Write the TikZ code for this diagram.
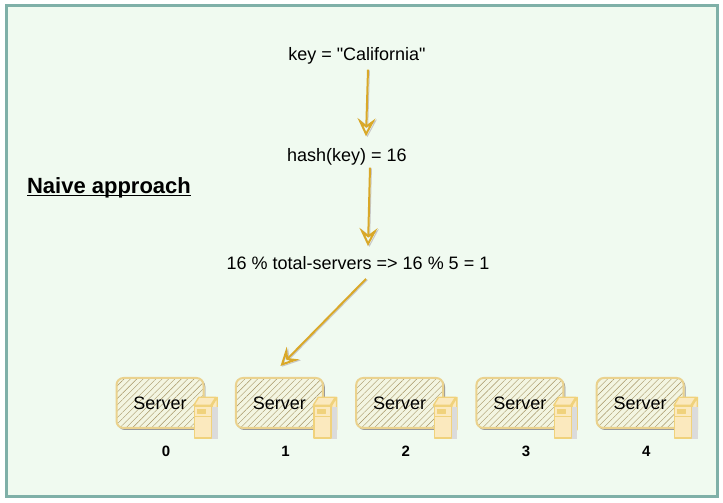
\documentclass[tikz,border=0pt]{standalone}
\usepackage{fontspec}
\setmainfont{Liberation Sans}
\newfontfamily\plainsans{Liberation Sans}
\usetikzlibrary{arrows.meta,positioning,patterns.meta,calc}
\definecolor{pagebg}{HTML}{F0FAF0}
\definecolor{framec}{HTML}{7FB0A8}
\definecolor{sketchc}{HTML}{EAD28E}
\definecolor{towerc}{HTML}{FBE9BE}
\definecolor{towerd}{HTML}{F0D27C}
\definecolor{arrowc}{HTML}{D9A828}
\newcommand{\undertext}[1]{\setbox0\hbox{#1}\rlap{\rule[-2.6pt]{\wd0}{1.6pt}}\box0}

\begin{document}
\begin{tikzpicture}[x=1pt,y=1pt]
  \tikzset{
    >={Stealth[open,length=18pt,width=18pt,inset=7pt]},
    semithick,
    txt/.style={font=\plainsans\fontsize{18}{22}\selectfont,inner sep=2pt},
    number/.style={font=\fontsize{15}{18}\selectfont\bfseries,inner sep=2pt},
    flow/.style={->,draw=arrowc,line width=2pt,
      preaction={draw=black!22,line width=1pt,transform canvas={xshift=1.4pt,yshift=-.8pt}}},
    server/.style={txt,minimum width=87pt,minimum height=50pt,inner sep=0pt,
      draw=sketchc,line width=2pt,rounded corners=7pt,
      pattern={Lines[angle=45,distance=4.5pt,line width=.4pt]},pattern color=black!30!sketchc,
      preaction={draw=black!40,line width=.8pt,transform canvas={xshift=1.4pt,yshift=-1.6pt}},
      preaction={fill=towerc!30!pagebg}},
    tower/.style={minimum width=17pt,minimum height=32pt,inner sep=0pt,
      draw=towerd,line width=1.4pt,fill=towerc,line join=round,
      preaction={fill=black!14,transform canvas={xshift=6pt,yshift=-1pt}},
      path picture={
        \draw[towerd,line width=1pt]
          ($(path picture bounding box.north west)!.34!(path picture bounding box.south west)$)
          -- ($(path picture bounding box.north east)!.34!(path picture bounding box.south east)$);
        \draw[towerd,line width=.8pt,fill=towerd]
          ($(path picture bounding box.north west)+(3,-3)$) rectangle ++(8,-4);
      },
      append after command={
        \pgfextra{\draw[towerd,line width=1.4pt,fill=towerc,line join=round]
          (\tikzlastnode.north west) -- ++(5,8) -- ++(17,0) -- ++(-5,-8) -- cycle
          (\tikzlastnode.north east) -- ++(5,8) -- ++(0,-32) -- ++(-5,-8) -- cycle;}
      }},
  }
  \path[use as bounding box] (0,0) rectangle (723,503);
  \draw[framec,line width=3pt,fill=pagebg] (6,6) rectangle (717,497);

  \node [txt] (key) at (357,447)         {key = "California"};
  \node [txt] (hash) [below=101pt of key.center,anchor=center,xshift=-10pt]  {hash(key) = 16};
  \node [txt] (mod) at (358,240)         {16 \% total-servers => 16 \% 5 = 1};
  \node [font=\fontsize{22}{26}\selectfont\bfseries,inner sep=0pt] (title) at (109,315)
    {\undertext{Naive approach}};

  \node [server] (s0) at (160,100)         {Server};
  \node [server] (s1) [right=31.25pt of s0]   {Server};
  \node [server] (s2) [right=31.25pt of s1]   {Server};
  \node [server] (s3) [right=31.25pt of s2]   {Server};
  \node [server] (s4) [right=31.25pt of s3]   {Server};

  \node [tower] (t0) at ($(s0)+(43,-19)$)  {};
  \node [tower] (t1) at ($(s1)+(43,-19)$)  {};
  \node [tower] (t2) at ($(s2)+(43,-19)$)  {};
  \node [tower] (t3) at ($(s3)+(43,-19)$)  {};
  \node [tower] (t4) at ($(s4)+(43,-19)$)  {};

  \node [number] (n0) at ($(s0)+(6,-48)$)  {0};
  \node [number] (n1) at ($(s1)+(6,-48)$)  {1};
  \node [number] (n2) at ($(s2)+(6,-48)$)  {2};
  \node [number] (n3) at ($(s3)+(6,-48)$)  {3};
  \node [number] (n4) at ($(s4)+(6,-48)$)  {4};

  \draw[flow] ([xshift=11pt,yshift=-3pt]key.south) -- ([xshift=19pt,yshift=10pt]hash.north);
  \draw[flow] ([xshift=23pt,yshift=0pt]hash.south) -- ([xshift=10pt,yshift=8pt]mod.north);
  \draw[flow] ([xshift=8pt,yshift=-7pt]mod.south) -- ([xshift=1pt,yshift=11pt]s1.north);
\end{tikzpicture}
\end{document}
